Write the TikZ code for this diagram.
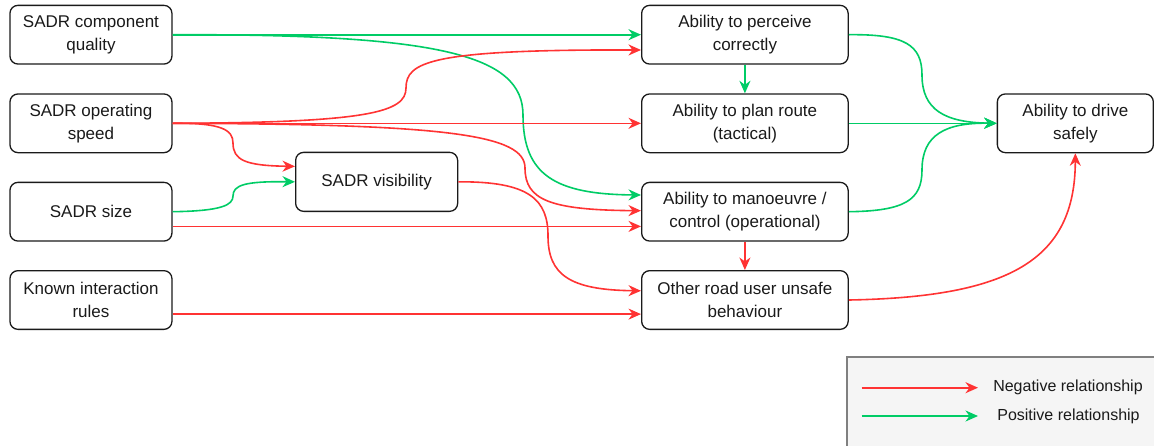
\documentclass[tikz,border=0pt]{standalone}
\usepackage{fontspec}
\setmainfont{Liberation Sans}
\usetikzlibrary{arrows.meta,calc}
\definecolor{neg}{HTML}{FF3333}
\definecolor{pos}{HTML}{00CC66}
\definecolor{ink}{HTML}{1A1A1A}
\definecolor{legfill}{HTML}{F5F5F5}
\definecolor{legline}{HTML}{808080}
\begin{document}
\begin{tikzpicture}[x=1pt,y=-1pt,
  box/.style={draw=ink, line width=1.3pt, rounded corners=8pt, fill=white,
    anchor=north west, inner sep=0pt, align=center, text=ink,
    font=\fontsize{17}{23}\selectfont, minimum height=58.7pt},
  lbox/.style={box, minimum width=162pt},
  mbox/.style={box, minimum width=206.5pt},
  tip/.style={-{Stealth[length=12.5pt,width=11pt,inset=4pt]}},
  neglink/.style={draw=neg, line width=1.6pt, tip},
  poslink/.style={draw=pos, line width=1.6pt, tip},
  legtext/.style={text=ink, font=\fontsize{16}{19}\selectfont, inner sep=0pt}
]
\useasboundingbox (0,0) rectangle (1154,445);
\clip (0,0) rectangle (1154,445);

% factor boxes (left column)
\node[lbox] (qual)  at (9.3,4.7)   {SADR component\\quality};
\node[lbox] (speed) at (9.3,93.3)  {SADR operating\\speed};
\node[lbox] (size)  at (9.3,181.7) {SADR size};
\node[lbox] (known) at (9.3,270)   {Known interaction\\rules};
\node[lbox, minimum height=59pt] (vis) at (295,151.7) {SADR visibility};

% ability boxes (middle column)
\node[mbox] (perc)  at (641,4.7)   {Ability to perceive\\correctly};
\node[mbox] (plan)  at (641,93.3)  {Ability to plan route\\(tactical)};
\node[mbox] (manv)  at (641,181.7) {Ability to manoeuvre /\\control (operational)};
\node[mbox] (other) at (641,270)   {Other road user unsafe\\behaviour};

% outcome
\node[box, minimum width=156pt] (drive) at (996.7,93.3) {Ability to drive\\safely};

% relationships from the factors
\draw[poslink] (qual.east) -- (perc.west);
\draw[poslink] (qual.east) .. controls (440,34) and (523,55) .. (523,115)
  .. controls (523,175) and (555,194.3) .. ($(manv.west)+(0,-16.7)$);
\draw[neglink] (speed.east) .. controls (370,122.7) and (406,112) .. (406,88)
  .. controls (406,62) and (430,49.3) .. ($(perc.west)+(0,15.3)$);
\draw[neglink] (speed.east) -- (plan.west);
\draw[neglink] (speed.east) .. controls (222,122.7) and (233,130) .. (233,143)
  .. controls (233,160) and (245,165.7) .. ($(vis.west)+(0,-15.5)$);
\draw[neglink] (speed.east) .. controls (450,124) and (525,135) .. (525,168)
  .. controls (525,200) and (550,210) .. ($(manv.west)+(0,-1)$);
\draw[poslink] (size.east) .. controls (222,211) and (233,205) .. (233,196)
  .. controls (233,185) and (245,181.2) .. (vis.west);
\draw[neglink] ($(size.east)+(0,14.7)$) -- ($(manv.west)+(0,14.7)$);
\draw[neglink] (vis.east) .. controls (530,181.2) and (548,200) .. (548,236)
  .. controls (548,275) and (570,290) .. ($(other.west)+(0,-9.2)$);
\draw[neglink] ($(known.east)+(0,14.1)$) -- ($(other.west)+(0,14.1)$);

% relationships between abilities
\draw[poslink] (perc.south) -- (plan.north);
\draw[neglink] (manv.south) -- (other.north);
\draw[poslink] (perc.east) .. controls (905,34) and (922,45) .. (922,75)
  .. controls (922,110) and (945,122.5) .. (drive.west);
\draw[poslink] (plan.east) -- (drive.west);
\draw[poslink] (manv.east) .. controls (905,211) and (922,200) .. (922,170)
  .. controls (922,135) and (945,122.5) .. (drive.west);
\draw[neglink] (other.east) .. controls (1010,297) and (1075,260) .. (drive.south);

% legend
\draw[fill=legfill, draw=legline, line width=1.5pt] (847,357) rectangle (1165,455);
\coordinate (nega) at (861.7,387.7);
\coordinate (negb) at (978,387.7);
\coordinate (posa) at (861.7,416);
\coordinate (posb) at (978,416);
\draw[neglink] (nega) -- (negb);
\draw[poslink] (posa) -- (posb);
\node[legtext] (negtxt) at (1068,387.7) {Negative relationship};
\node[legtext] (postxt) at (1068.5,416) {Positive relationship};
\end{tikzpicture}
\end{document}
